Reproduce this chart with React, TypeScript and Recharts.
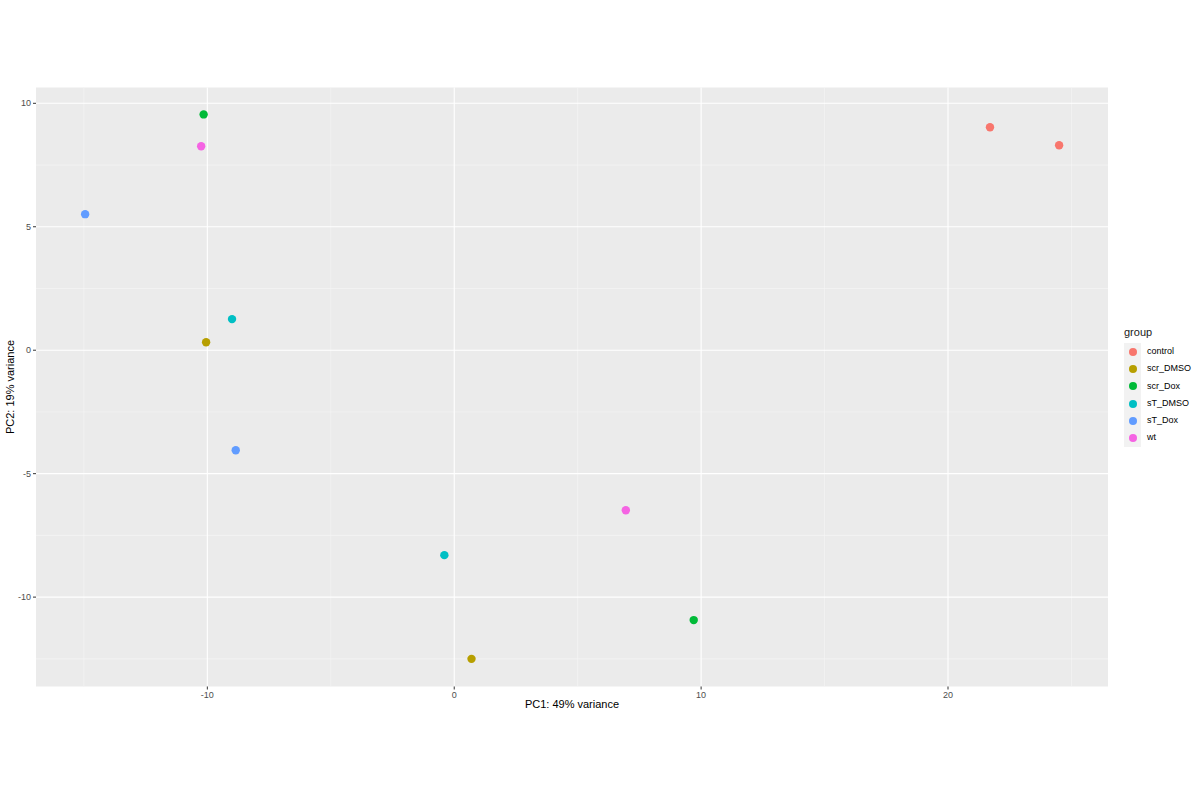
import React from 'react';
import { ScatterChart, Scatter, XAxis, YAxis, CartesianGrid } from 'recharts';

const groups = ['control', 'scr_DMSO', 'scr_Dox', 'sT_DMSO', 'sT_Dox', 'wt'];
const groupColors = ['#F8766D', '#B79F00', '#00BA38', '#00BFC4', '#619CFF', '#F564E3'];
const pc1 = [[21.7, 24.5], [-10.05, 0.7], [-10.15, 9.7], [-9.0, -0.4], [-14.95, -8.85], [-10.25, 6.95]];
const pc2 = [[9.03, 8.3], [0.32, -12.5], [9.55, -10.93], [1.26, -8.3], [5.51, -4.05], [8.26, -6.48]];

const xTicks = [-10, 0, 10, 20];
const yTicks = [-10, -5, 0, 5, 10];
const xMinor = [-15, -5, 5, 15, 25];
const yMinor = [-12.5, -7.5, -2.5, 2.5, 7.5];

const font = '"Liberation Sans", Arial, sans-serif';

// ggplot style legend, placed to the right of the panel
const GroupLegend = () => (
  <div style={{ position: 'absolute', left: 1124, top: 326, fontFamily: font, fontWeight: 400 }}>
    <div style={{ fontSize: 11, color: '#1a1a1a', marginBottom: 5 }}>group</div>
    <div style={{ display: 'flex' }}>
      <div style={{ background: '#F2F2F2', width: 17 }}>
        {groups.map((g, i) => (
          <div key={g} style={{ height: 17.3, display: 'flex', alignItems: 'center', justifyContent: 'center' }}>
            <div style={{ width: 8, height: 8, borderRadius: '50%', background: groupColors[i] }} />
          </div>
        ))}
      </div>
      <div style={{ marginLeft: 6 }}>
        {groups.map((g) => (
          <div key={g} style={{ height: 17.3, lineHeight: '17.3px', fontSize: 9, color: '#000' }}>{g}</div>
        ))}
      </div>
    </div>
  </div>
);

export default function App() {
  return (
    <div style={{ position: 'absolute', left: 0, top: 0, width: 1200, height: 800, background: '#fff', fontFamily: font }}>
      <ScatterChart width={1200} height={800} margin={{ top: 87.5, right: 92, bottom: 0, left: 0 }}>
        <CartesianGrid fill="#EBEBEB" stroke="#F7F7F7" strokeWidth={0.6} verticalValues={xMinor} horizontalValues={yMinor} />
        <CartesianGrid fill="none" stroke="#FFFFFF" strokeWidth={1.1} verticalValues={xTicks} horizontalValues={yTicks} />
        <XAxis
          type="number"
          dataKey="x"
          domain={[-16.94, 26.48]}
          allowDataOverflow
          ticks={xTicks}
          height={113.5}
          axisLine={false}
          tickLine={{ stroke: '#333333' }}
          tickSize={3}
          tick={{ fill: '#4D4D4D', fontSize: 9, fontFamily: font }}
          label={{ value: 'PC1: 49% variance', position: 'insideTop', offset: 14, fill: '#000', fontSize: 11, fontFamily: font }}
        />
        <YAxis
          type="number"
          dataKey="y"
          domain={[-13.62, 10.64]}
          allowDataOverflow
          ticks={yTicks}
          width={36}
          axisLine={false}
          tickLine={{ stroke: '#333333' }}
          tickSize={3}
          tick={{ fill: '#4D4D4D', fontSize: 9, fontFamily: font }}
          label={{ value: 'PC2: 19% variance', angle: -90, position: 'insideLeft', offset: 10, fill: '#000', fontSize: 11, fontFamily: font, style: { textAnchor: 'middle' } }}
        />
        {groups.map((g, i) => (
          <Scatter
            key={g}
            name={g}
            data={pc1[i].map((x, j) => ({ x, y: pc2[i][j] }))}
            fill={groupColors[i]}
            isAnimationActive={false}
            shape={(p: any) => <circle cx={p.cx} cy={p.cy} r={4.2} fill={groupColors[i]} />}
          />
        ))}
      </ScatterChart>
      <GroupLegend />
    </div>
  );
}
